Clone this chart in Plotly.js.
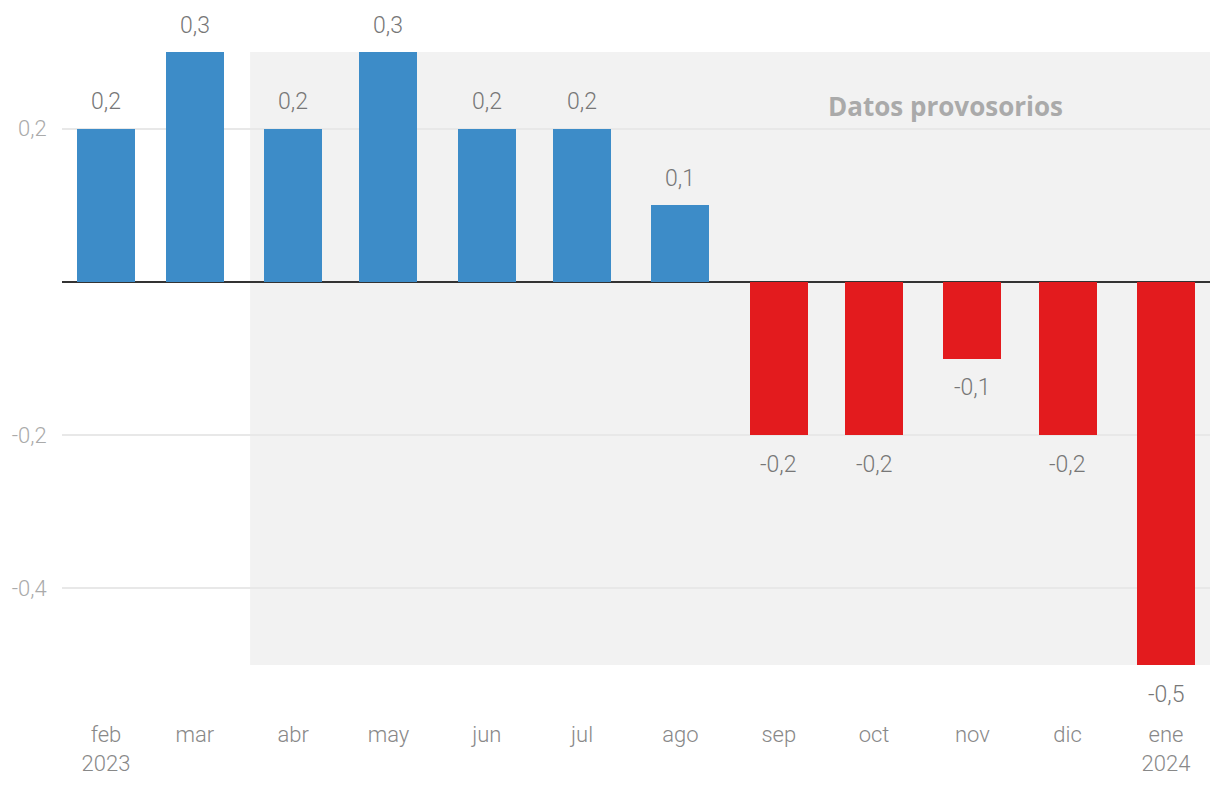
<!DOCTYPE html>
<html>
<head>
<meta charset="utf-8">
<script src="https://cdn.plot.ly/plotly-3.0.1.min.js"></script>
<style>html,body{margin:0;padding:0;background:#fff;}#chart{width:1220px;height:800px;}</style>
</head>
<body>
<div id="chart"></div>
<script>
const months = ['2023-02-01','2023-03-01','2023-04-01','2023-05-01','2023-06-01','2023-07-01','2023-08-01','2023-09-01','2023-10-01','2023-11-01','2023-12-01','2024-01-01'];
const monthLabels = ['feb<br>2023','mar','abr','may','jun','jul','ago','sep','oct','nov','dic','ene<br>2024'];
const values = [0.2, 0.3, 0.2, 0.3, 0.2, 0.2, 0.1, -0.2, -0.2, -0.1, -0.2, -0.5];
const valueLabels = ['0,2','0,3','0,2','0,3','0,2','0,2','0,1','-0,2','-0,2','-0,1','-0,2','-0,5'];
const yTicks = [-0.4, -0.2, 0.2];
const yTickLabels = ['-0,4','-0,2','0,2'];
const provisionalStart = '2023-03-18 10:00';
const provisionalText = 'Datos provosorios';

const BLUE = '#3d8cc8', RED = '#e31b1e';
const barWidthMs = 18.3 * 86400000;

const trace = {
  type: 'bar',
  x: months,
  y: values,
  width: months.map(() => barWidthMs),
  marker: {color: values.map(v => v >= 0 ? BLUE : RED), line: {width: 0}},
  hoverinfo: 'skip',
  showlegend: false
};

const annotations = months.map((m, i) => ({
  x: m, y: values[i], xref: 'x', yref: 'y',
  text: valueLabels[i], showarrow: false,
  yshift: values[i] >= 0 ? 27 : -29,
  yanchor: 'middle', xanchor: 'center',
  font: {family: 'Roboto', size: 23, color: '#777', weight: 300}
}));
annotations.push({
  x: 0.770, y: 0.912, xref: 'paper', yref: 'paper',
  text: provisionalText, showarrow: false,
  xanchor: 'center', yanchor: 'middle',
  font: {family: 'Open Sans', size: 26, color: '#aaa', weight: 700}
});

const layout = {
  width: 1220, height: 800,
  margin: {l: 62, r: 10, t: 52, b: 135},
  paper_bgcolor: '#fff', plot_bgcolor: '#fff',
  bargap: 0,
  font: {family: 'Roboto', size: 22, color: '#888', weight: 300},
  xaxis: {
    type: 'date',
    range: ['2023-01-18 03:20', '2024-01-14 20:40'],
    tickvals: months, ticktext: monthLabels,
    ticks: 'outside', ticklen: 50, tickcolor: 'rgba(0,0,0,0)',
    showgrid: false, zeroline: false, showline: false,
    tickfont: {family: 'Roboto', size: 22, color: '#888', weight: 300},
    fixedrange: true
  },
  yaxis: {
    range: [-0.5, 0.3],
    tickvals: yTicks, ticktext: yTickLabels,
    ticks: 'outside', ticklen: 10, tickcolor: 'rgba(0,0,0,0)',
    showgrid: true, gridcolor: '#e8e8e8', gridwidth: 2,
    zeroline: true, zerolinecolor: '#333', zerolinewidth: 2,
    showline: false,
    tickfont: {family: 'Roboto', size: 22, color: '#aaa', weight: 300},
    fixedrange: true
  },
  shapes: [{
    type: 'rect', layer: 'below',
    xref: 'x', yref: 'y',
    x0: provisionalStart, x1: '2024-01-14 20:40',
    y0: -0.5, y1: 0.3,
    fillcolor: '#f2f2f2', line: {width: 0}
  }],
  annotations: annotations
};

Plotly.newPlot('chart', [trace], layout, {displayModeBar: false, staticPlot: true});
</script>
</body>
</html>
